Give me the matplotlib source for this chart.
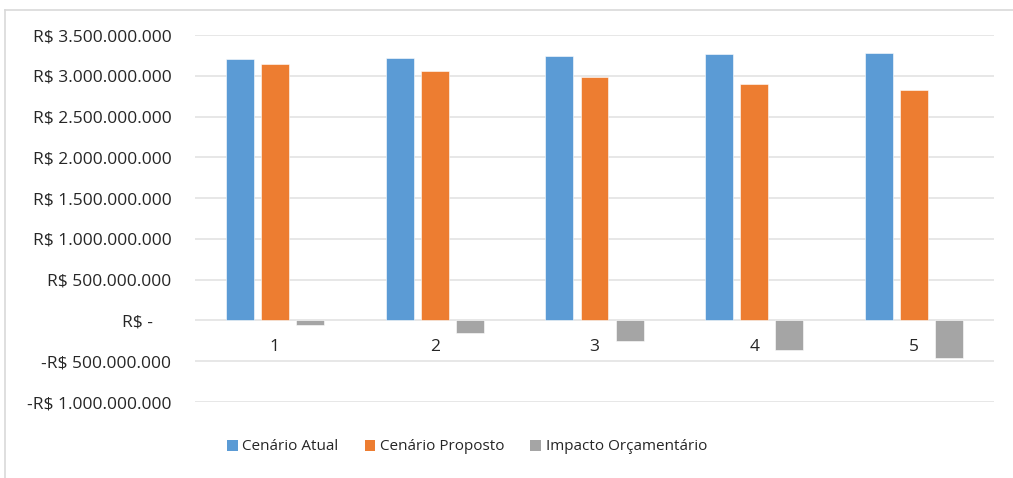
import numpy as np
import matplotlib
import matplotlib.pyplot as plt
from matplotlib.patches import Patch
from matplotlib.lines import Line2D
from matplotlib.ticker import FuncFormatter, MultipleLocator

matplotlib.use('Agg')

categories = ['1', '2', '3', '4', '5']
cenario_atual = [3.20e9, 3.22e9, 3.24e9, 3.27e9, 3.28e9]
cenario_proposto = [3.15e9, 3.06e9, 2.99e9, 2.90e9, 2.82e9]
impacto = [-0.06e9, -0.16e9, -0.25e9, -0.36e9, -0.46e9]

series = ['Cenário Atual', 'Cenário Proposto', 'Impacto Orçamentário']
colors = ['#5B9BD5', '#ED7D31', '#A5A5A5']

plt.rcParams['font.family'] = ['Open Sans', 'DejaVu Sans']


def brl(v, pos):
    # Excel accounting style: R$ 1.000.000
    if abs(v) < 1:
        return 'R$ -    '
    s = '{:,.0f}'.format(abs(v)).replace(',', '.')
    return ('-R$ ' if v < 0 else 'R$ ') + s


fig = plt.figure(figsize=(10.13, 4.78), dpi=100)
ax = fig.add_axes([195 / 1013, 1 - 402 / 478, 799 / 1013, 367 / 478])

x = np.arange(len(categories))
w = 0.175
step = 0.22
for k, (vals, c) in enumerate(zip([cenario_atual, cenario_proposto, impacto], colors)):
    ax.bar(x + (k - 1) * step, vals, w, color=c, edgecolor='white', linewidth=0.4, zorder=3)

ax.set_xlim(-0.5, len(categories) - 0.5)
ax.set_ylim(-1.0e9, 3.5e9)
ax.yaxis.set_major_locator(MultipleLocator(0.5e9))
ax.yaxis.set_major_formatter(FuncFormatter(brl))
ax.grid(axis='y', color='#e3e3e3', linewidth=1.2, zorder=0)
ax.set_xticks([])
ax.tick_params(axis='y', length=0, pad=17, labelsize=12.5, labelcolor='#262626')
for s in ax.spines.values():
    s.set_visible(False)

# category labels sit just under the zero line, like Excel
for i, c in enumerate(categories):
    ax.annotate(c, xy=(x[i], 0), xytext=(0, -19), textcoords='offset points',
                ha='center', va='center', fontsize=12.5, color='#262626')

handles = [Patch(facecolor=c, edgecolor='none') for c in colors]
fig.legend(handles, series, loc='center', bbox_to_anchor=(467 / 1013, 1 - 447 / 478),
           ncol=3, frameon=False, fontsize=11, handlelength=0.7, handleheight=0.7,
           handletextpad=0.3, columnspacing=1.7, labelcolor='#262626')

# chart area border (left and top visible in the crop)
fig.add_artist(Line2D([5 / 1013, 5 / 1013], [0, 1 - 10 / 478], transform=fig.transFigure,
                      color='#d9d9d9', linewidth=1.2))
fig.add_artist(Line2D([5 / 1013, 1], [1 - 10 / 478, 1 - 10 / 478], transform=fig.transFigure,
                      color='#d9d9d9', linewidth=1.2))

fig.savefig('out.png', dpi=100)
